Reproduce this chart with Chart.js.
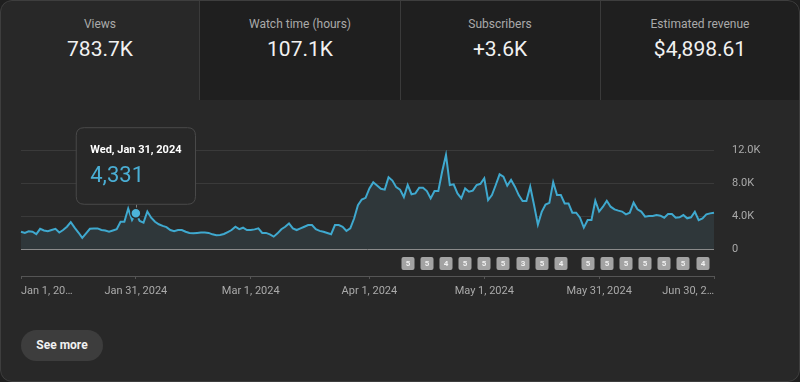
<!DOCTYPE html>
<html><head><meta charset="utf-8">
<script src="https://cdn.jsdelivr.net/npm/chart.js@4.4.1/dist/chart.umd.min.js"></script>
<style>
html,body{margin:0;padding:0;background:#1f1f1f;}
#wrap{position:relative;width:800px;height:382px;background:#282828;border-radius:12px;overflow:hidden;font-family:Roboto,"Noto Sans",sans-serif;}
#outline{position:absolute;left:0;top:0;right:0;bottom:0;border:1px solid #3e3e3e;border-radius:12px;pointer-events:none;z-index:5;}
.card{position:absolute;top:0;width:200px;height:100px;background:#1f1f1f;text-align:center;}
.card.sel{background:#282828;}
.sep{position:absolute;top:0;width:1px;height:100px;background:#3a3a3a;}
.lab{position:absolute;left:0;right:0;top:17px;line-height:14px;font-size:12px;color:#aaaaaa;}
.val{position:absolute;left:0;right:0;top:36px;line-height:26px;font-size:21px;color:#f1f1f1;}
#c{position:absolute;left:0;top:100px;}
#more{position:absolute;left:21px;top:330px;width:82px;height:31px;border-radius:16px;background:#3d3d3d;color:#f1f1f1;font-size:12px;font-weight:bold;line-height:31px;text-align:center;}
</style></head>
<body>
<div id="wrap">
  <div class="card sel" style="left:0"><div class="lab">Views</div><div class="val">783.7K</div></div>
  <div class="card" style="left:200px"><div class="lab">Watch time (hours)</div><div class="val">107.1K</div></div>
  <div class="card" style="left:400px"><div class="lab">Subscribers</div><div class="val">+3.6K</div></div>
  <div class="card" style="left:600px"><div class="lab">Estimated revenue</div><div class="val">$4,898.61</div></div>
  <div class="sep" style="left:199px"></div>
  <div class="sep" style="left:400px"></div>
  <div class="sep" style="left:600px"></div>
  <canvas id="c" width="800" height="206"></canvas>
  <div id="more">See more</div>
  <div id="outline"></div>
</div>
<script>
// Daily views, Jan 1 2024 .. Jun 30 2024
const dailyViews = [
  // Jan
  2100,1950,2150,2100,1800,2450,2250,2150,2300,2450,
  2000,2300,2700,3250,2600,2000,1350,1900,2450,2500,
  2500,2300,2250,2100,2250,2400,3300,3300,4900,3500,
  4331,
  // Feb
  3400,3200,4550,3800,3300,3000,2800,2650,2300,
  2150,2300,2300,2100,1950,1900,1950,2000,2000,1950,
  1780,1660,1700,1820,2060,2300,2700,2400,2580,2300,
  // Mar
  2300,2380,2500,1950,1950,1780,1500,1900,2400,2700,
  3100,2500,2300,2500,2700,2900,2900,2400,2200,2100,
  1950,1800,2900,2900,2700,2200,2500,3700,5300,6000,
  6200,
  // Apr
  7350,8080,7700,7300,7200,8690,8300,7500,7200,6300,
  7760,6640,6740,7440,7440,7030,6140,7030,7030,9400,
  11400,7760,7840,6740,6140,7350,6950,7070,7760,7900,
  // May
  8570,5930,6540,7760,9050,8770,7680,8370,7560,6540,
  5810,5810,7560,5330,2950,4500,5400,5600,8100,6540,
  6540,5530,5530,4400,4400,3800,2590,3510,3510,5850,
  4540,
  // Jun
  5130,5850,5130,4810,4650,4540,4200,4400,5620,4810,
  4540,3920,4000,4000,4120,4040,3800,4240,4240,3800,
  3840,4120,3720,3840,4520,3510,3720,4200,4320,4400
];
const startDate = [2024, 0, 1];
const dates = dailyViews.map((_, i) => new Date(Date.UTC(startDate[0], startDate[1], startDate[2] + i))
  .toLocaleDateString('en-US', {weekday:'short', month:'short', day:'numeric', year:'numeric', timeZone:'UTC'}));

const xTickDays   = [0, 30, 60, 91, 121, 151, 181];
const xTickLabels = ['Jan 1, 20…', 'Jan 31, 2024', 'Mar 1, 2024', 'Apr 1, 2024', 'May 1, 2024', 'May 31, 2024', 'Jun 30, 2…'];
const yTickValues = [0, 4000, 8000, 12000];
const yTickLabels = ['0', '4.0K', '8.0K', '12.0K'];

const badgeDays   = [101,106,111,116,121,126,131,136,141, 148,153,158,163,168,173,178];
const badgeLabels = ['5','5','4','5','5','5','3','5','4', '5','5','5','5','5','5','4'];

const tooltipIndex = 30;

const font = 'Roboto, "Noto Sans", sans-serif';

const badgePlugin = {
  id: 'badges',
  afterDatasetsDraw(chart) {
    const {ctx, scales: {x, y}} = chart;
    const top = y.getPixelForValue(0) + 8;
    ctx.save();
    ctx.font = 'bold 8px ' + font;
    ctx.textAlign = 'center';
    ctx.textBaseline = 'middle';
    badgeDays.forEach((d, i) => {
      const cx = Math.round(x.getPixelForValue(d));
      ctx.fillStyle = '#a3a3a3';
      ctx.beginPath();
      ctx.roundRect(cx - 6.5, top, 13, 13, 2);
      ctx.fill();
      ctx.fillStyle = '#f0f0f0';
      ctx.fillText(badgeLabels[i], cx, top + 7);
    });
    ctx.restore();
  }
};

const crossPlugin = {
  id: 'cross',
  beforeDatasetsDraw(chart) {
    const pt = chart.getDatasetMeta(0).data[tooltipIndex];
    if (!pt) return;
    const y0 = chart.scales.y.getPixelForValue(0);
    const ctx = chart.ctx;
    ctx.save();
    ctx.strokeStyle = '#7a7a7a';
    ctx.lineWidth = 1;
    ctx.beginPath();
    ctx.moveTo(Math.round(pt.x) + 0.5, pt.y - 9);
    ctx.lineTo(Math.round(pt.x) + 0.5, y0);
    ctx.stroke();
    ctx.restore();
  }
};

const chart = new Chart(document.getElementById('c'), {
  type: 'line',
  data: {
    labels: dates,
    datasets: [{
      data: dailyViews,
      borderColor: '#3fa9cf',
      borderWidth: 2,
      backgroundColor: '#2f373a',
      fill: {value: 0},
      tension: 0,
      pointRadius: 0,
      pointHoverRadius: 5,
      pointHoverBackgroundColor: '#4cb4da',
      pointHoverBorderColor: '#282828',
      pointHoverBorderWidth: 1.5
    }]
  },
  options: {
    responsive: false,
    animation: false,
    events: [],
    layout: {padding: {left: 21, right: 0, top: 50, bottom: 0}},
    plugins: {
      legend: {display: false},
      tooltip: {
        enabled: true,
        animation: false,
        backgroundColor: '#282828',
        borderColor: '#4a4a4a',
        borderWidth: 1,
        cornerRadius: 8,
        padding: {top: 16, bottom: 15, left: 14, right: 14},
        caretSize: 0,
        caretPadding: 9,
        xAlign: 'center',
        yAlign: 'bottom',
        displayColors: false,
        titleFont: {family: font, size: 11, weight: 'bold'},
        titleColor: '#ffffff',
        titleMarginBottom: 6,
        bodyFont: {family: font, size: 22},
        bodyColor: '#4aaed4',
        callbacks: {
          title: items => items[0].label,
          label: item => item.raw.toLocaleString('en-US')
        }
      }
    },
    scales: {
      x: {
        type: 'category',
        offset: false,
        grid: {display: true, drawOnChartArea: false, tickLength: 3, color: '#555555'},
        border: {display: true, color: '#555555', width: 1},
        ticks: {
          autoSkip: false, maxRotation: 0, minRotation: 0, align: 'inner', padding: 6,
          color: '#aaaaaa', font: {family: font, size: 11},
          callback: (v, i) => xTickLabels[i]
        },
        afterBuildTicks: s => { s.ticks = xTickDays.map(v => ({value: v})); },
        afterFit: s => { s.height = 30; }
      },
      y: {
        position: 'right',
        min: -3270,
        max: 12000,
        afterBuildTicks: s => { s.ticks = yTickValues.map(v => ({value: v})); },
        ticks: {
          color: '#aaaaaa', font: {family: font, size: 11}, padding: 18, crossAlign: 'near',
          callback: (v, i) => yTickLabels[i]
        },
        grid: {
          drawTicks: false, lineWidth: 1,
          color: c => (c.tick && c.tick.value === 0) ? '#8a8a8a' : '#3a3a3a'
        },
        border: {display: false},
        afterFit: s => { s.width = 86; }
      }
    }
  },
  plugins: [crossPlugin, badgePlugin]
});

chart.setActiveElements([{datasetIndex: 0, index: tooltipIndex}]);
chart.tooltip.setActiveElements([{datasetIndex: 0, index: tooltipIndex}], {x: 0, y: 0});
chart.update('none');
</script>
</body></html>
